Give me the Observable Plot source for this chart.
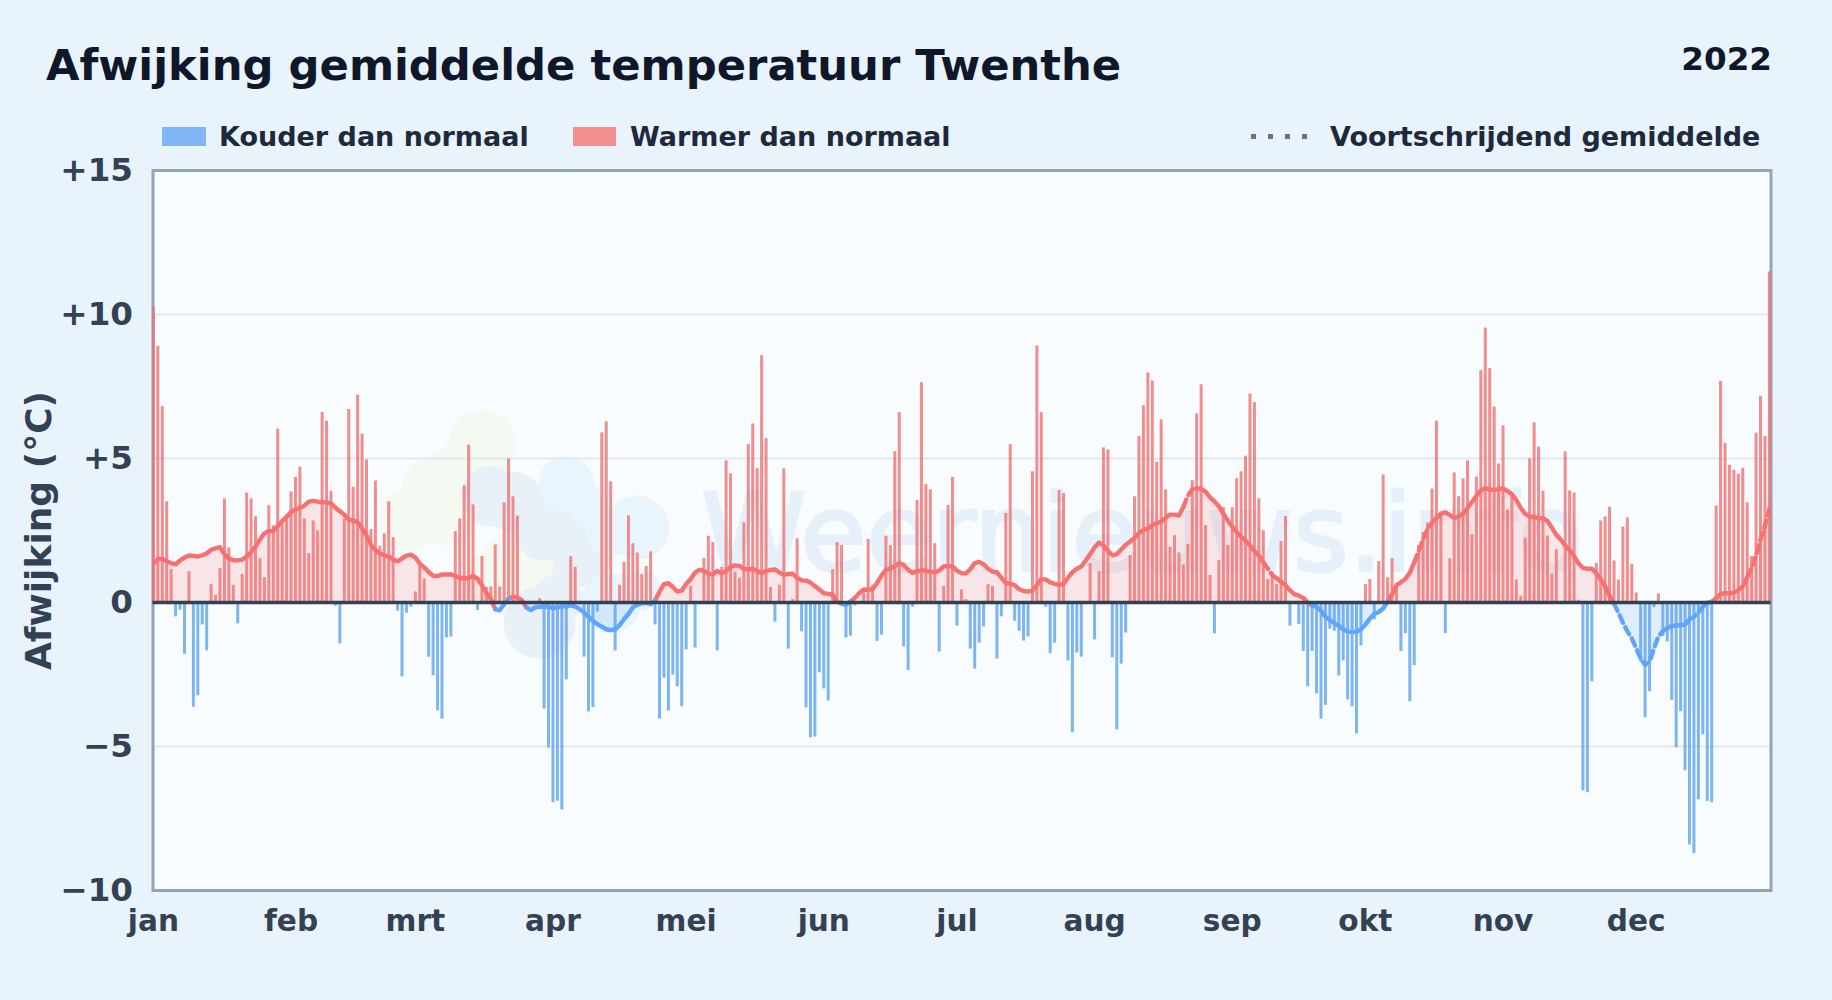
<!DOCTYPE html>
<html lang="nl">
<head>
<meta charset="utf-8">
<title>Afwijking gemiddelde temperatuur Twenthe</title>
<script src="https://cdn.jsdelivr.net/npm/d3@7"></script>
<script src="https://cdn.jsdelivr.net/npm/@observablehq/plot@0.6"></script>
<style>
html,body{margin:0;padding:0;width:1832px;height:1000px;overflow:hidden;background:#e8f3fc;font-family:"DejaVu Sans",sans-serif;}
.t{position:absolute;white-space:nowrap;font-weight:700;line-height:1;}
#title{left:46px;top:43.5px;font-size:43.3px;color:#0f172a;}
#year{right:60px;top:43px;font-size:32.6px;color:#0f172a;}
.leg{top:122.5px;font-size:27px;color:#1e293b;}
.sw{position:absolute;top:127px;height:19px;}
#chart{position:absolute;left:0;top:120px;}
</style>
</head>
<body>
<div id="title" class="t">Afwijking gemiddelde temperatuur Twenthe</div>
<div id="year" class="t">2022</div>
<div class="sw" style="left:162px;width:44px;background:#80b6f8"></div>
<div class="t leg" style="left:219px">Kouder dan normaal</div>
<div class="sw" style="left:573px;width:43px;background:#f68f91"></div>
<div class="t leg" style="left:630px">Warmer dan normaal</div>
<div class="sw" style="left:1251px;top:134px;width:56px;height:5px;background:repeating-linear-gradient(90deg,#64748b 0 5px,transparent 5px 17px)"></div>
<div class="t leg" style="left:1330px">Voortschrijdend gemiddelde</div>
<div id="chart"></div>
<script>
// Daily deviation from normal, °C, one per day of 2022
const deviation = [
10.25,8.9,6.8,3.5,1.15,-0.5,-0.27,-1.8,1.07,-3.64,
-3.24,-0.78,-1.68,0.62,0.24,1.18,3.6,1.9,0.6,-0.74,
0.97,3.8,3.6,2.98,1.52,0.86,3.36,2.66,6.02,2.7,
2.9,3.84,4.35,4.7,2.9,1.7,2.83,2.49,6.6,6.3,
3.86,-0.13,-1.44,2.9,6.7,4.0,7.2,5.85,4.95,2.53,
4.22,1.95,2.38,3.5,2.25,-0.3,-2.58,-0.37,-0.16,0.37,
1.32,0.82,-1.9,-2.55,-3.76,-4.05,-1.23,-1.2,2.46,2.9,
4.05,5.46,3.39,-0.28,1.6,0.52,0.54,2.0,0.54,3.46,
4.99,3.67,3.0,0,0,0,0,0.13,-3.7,-5.05,
-6.95,-6.9,-7.2,-2.69,1.59,1.22,0,-1.9,-3.8,-3.65,
-0.33,5.89,6.27,4.19,-1.68,0.6,1.39,3.01,2.04,1.72,
0.97,1.25,1.76,-0.78,-4.05,-2.63,-3.77,-2.52,-2.93,-3.62,
-1.64,0.56,-1.58,0,1.53,2.3,2.08,-1.68,1.22,4.92,
4.47,1.05,0.84,2.77,5.48,6.2,4.64,8.57,5.69,0.52,
-0.68,0.6,4.64,-1.62,0.1,2.21,-1.02,-3.66,-4.7,-4.67,
-2.44,-3.0,-3.42,1.14,2.08,1.98,-1.23,-1.17,-0.12,0,
0.33,2.19,0.6,-1.35,-1.13,2.3,1.98,5.24,6.59,-1.54,
-2.36,-0.16,3.54,7.63,4.09,3.91,2.04,-1.72,0.56,3.37,
4.34,-0.82,0.44,0.1,-1.62,-2.31,-1.41,-0.85,0.62,0.56,
-1.96,-0.5,3.09,5.48,-0.65,-1.0,-1.34,-1.19,4.54,8.91,
6.59,-0.16,-1.78,-1.41,3.89,3.78,-2.03,-4.52,-1.75,-1.9,
0,1.35,-1.3,1.07,5.37,5.3,-1.92,-4.42,-2.14,-1.06,
1.63,3.67,5.76,6.83,7.97,7.69,4.87,6.34,3.91,1.92,
2.32,1.72,1.3,2.02,4.23,6.55,7.56,2.67,0.94,-1.09,
1.46,3.3,1.98,3.29,4.3,4.54,5.08,7.24,6.94,3.6,
2.49,0.8,1.06,0.62,2.12,2.98,-0.82,0,-0.76,-1.7,
-2.93,-1.7,-3.17,-4.05,-3.57,-0.93,-1.0,-2.55,-2.03,-3.38,
-3.62,-4.56,-1.51,0.62,0.8,-0.6,1.42,4.43,0.86,1.53,
0.66,-1.7,-1.08,-3.44,-2.19,1.98,2.43,2.76,3.94,6.3,
3.15,-1.08,1.52,4.5,3.67,4.29,4.92,2.35,4.35,8.05,
9.53,8.12,6.79,4.81,6.13,3.21,3.7,0.78,0.22,2.24,
4.99,6.24,5.4,3.87,2.31,0.99,1.83,0,5.23,3.87,
3.8,0.08,-6.54,-6.6,-2.75,1.36,2.83,2.97,3.31,1.44,
0.78,2.62,2.94,1.33,0.33,-2.07,-4.0,-3.09,-0.18,0.3,
-1.18,-1.37,-3.4,-5.04,-3.79,-5.84,-8.42,-8.72,-6.85,-4.59,
-6.91,-6.95,3.35,7.68,5.52,4.77,4.59,4.45,4.66,3.46,
1.6,5.88,7.16,5.76,11.48];

// Moving average, °C, one per day
const movingAverage = [
1.35,1.5,1.52,1.43,1.37,1.33,1.46,1.56,1.63,1.62,
1.59,1.64,1.7,1.83,1.88,1.92,1.68,1.53,1.47,1.46,
1.49,1.59,1.75,1.94,2.19,2.4,2.48,2.48,2.65,2.82,
2.98,3.14,3.22,3.29,3.36,3.5,3.53,3.5,3.49,3.47,
3.44,3.29,3.17,3.05,2.88,2.84,2.79,2.57,2.32,1.99,
1.82,1.7,1.64,1.59,1.49,1.43,1.53,1.63,1.66,1.56,
1.35,1.22,1.06,0.93,0.92,0.97,0.97,0.98,0.92,0.85,
0.84,0.86,0.93,0.82,0.6,0.33,0.12,-0.23,-0.27,-0.06,
0.14,0.2,0.17,0.08,-0.17,-0.27,-0.17,-0.15,-0.14,-0.15,
-0.2,-0.17,-0.14,-0.13,-0.1,-0.14,-0.23,-0.35,-0.5,-0.64,
-0.75,-0.84,-0.93,-0.96,-0.93,-0.79,-0.58,-0.4,-0.17,-0.08,
-0.03,-0.01,-0.06,0.06,0.38,0.64,0.67,0.54,0.38,0.41,
0.64,0.81,1.04,1.13,1.1,1.01,0.97,1.1,1.01,1.1,
1.24,1.29,1.27,1.17,1.15,1.17,1.1,1.02,1.09,1.13,
1.15,1.04,0.96,0.99,1.0,0.85,0.77,0.76,0.69,0.57,
0.45,0.32,0.3,0.27,0.04,-0.05,-0.08,0.03,0.16,0.33,
0.45,0.44,0.46,0.68,0.93,1.13,1.19,1.26,1.37,1.3,
1.14,1.03,1.09,1.11,1.11,1.06,1.05,1.11,1.25,1.27,
1.26,1.1,1.02,1.01,1.15,1.37,1.41,1.33,1.17,1.07,
1.05,0.86,0.68,0.65,0.6,0.46,0.4,0.38,0.41,0.6,
0.81,0.8,0.7,0.65,0.61,0.64,0.86,1.05,1.17,1.25,
1.46,1.68,1.92,2.08,1.98,1.79,1.64,1.68,1.84,2.0,
2.12,2.24,2.41,2.52,2.57,2.68,2.76,2.81,2.94,3.05,
3.05,3.02,3.32,3.71,3.93,3.97,3.95,3.85,3.65,3.51,
3.34,3.08,2.85,2.63,2.45,2.28,2.15,1.98,1.79,1.62,
1.39,1.19,0.95,0.84,0.72,0.6,0.42,0.29,0.24,0.16,
0,-0.11,-0.15,-0.29,-0.49,-0.61,-0.72,-0.81,-0.93,-1.01,
-1.02,-1.02,-0.93,-0.77,-0.56,-0.4,-0.33,-0.21,0.03,0.29,
0.6,0.7,0.82,1.03,1.39,1.79,2.19,2.55,2.77,2.94,
3.08,3.13,3.04,2.94,2.98,3.08,3.28,3.49,3.7,3.89,
3.97,3.93,3.9,3.94,3.96,3.87,3.76,3.56,3.28,3.08,
2.99,2.97,2.93,2.93,2.83,2.6,2.35,2.18,1.98,1.81,
1.61,1.36,1.2,1.17,1.17,1.02,0.81,0.56,0.23,-0.04,
-0.36,-0.7,-1.0,-1.25,-1.59,-1.94,-2.17,-2.07,-1.59,-1.18,
-1.0,-0.88,-0.82,-0.8,-0.78,-0.77,-0.59,-0.49,-0.36,-0.15,
-0.01,0.03,0.15,0.29,0.32,0.32,0.34,0.43,0.56,0.88,
1.22,1.63,2.18,2.66,3.26];

// Day ranges where the moving-average line is drawn dashed
const dashedRanges = [[232,234],[250,252],[284,287],[328,340],[346,349],[359,364]];

const monthStarts = [0,31,59,90,120,151,181,212,243,273,304,334];
const monthLabels = ["jan","feb","mrt","apr","mei","jun","jul","aug","sep","okt","nov","dec"];
const yTicks = [-10,-5,0,5,10,15];
const yLabels = ["\u221210","\u22125","0","+5","+10","+15"];
const gridValues = [-5,5,10];

// Faint watermark logo: day, value, radius, colour
const logoDays   = [74,71,64,58,66, 82,76, 76,81,88,95,87,91, 93,98,109,103,103,110];
const logoValues = [5.5,4.8,3.9,2.9,3.2, 1.3,0.9, 3.7,3.5,2.5,1.9,-0.7,0.1, 4.1,3.4,2.6,2.5,-0.03,0.4];
const logoRadii  = [34,30,35,32,35, 36,25, 30,30,30,40,36,25, 28,20,32,25,30,20];
const logoTones  = ["#f4f9f2","#f4f9f2","#f4f9f2","#f4f9f2","#f4f9f2","#f4f9f2","#f4f9f2",
  "#e8f0f8","#e8f0f8","#e8f0f8","#e8f0f8","#e8f0f8","#e8f0f8",
  "#e9f5fd","#e9f5fd","#e9f5fd","#e9f5fd","#e9f5fd","#e9f5fd"];

const days = deviation.map((v,i)=>({day:i,value:v}));
const isDashed = d => dashedRanges.some(([a,b]) => d>=a && d<=b);
const maRows = movingAverage.map((v,i)=>({day:i,value:v,pos:Math.max(v,0),neg:Math.min(v,0)}));

// Split the line into runs of one colour and one dash style
const lineRows = [];
let run = 0;
movingAverage.forEach((v,i)=>{
  const key = (v>=0)+"|"+isDashed(i);
  const prevKey = i ? (movingAverage[i-1]>=0)+"|"+isDashed(i-1) : key;
  if (key!==prevKey) {
    lineRows.push({day:i,value:v,run,positive:movingAverage[i-1]>=0,dashed:isDashed(i-1)});
    run++;
  }
  lineRows.push({day:i,value:v,run,positive:v>=0,dashed:isDashed(i)});
});

const lineMark = (positive,dashed) => Plot.line(lineRows.filter(r=>r.positive===positive&&r.dashed===dashed),{
  x:"day",y:"value",z:"run",stroke:positive?"#f87171":"#60a5fa",strokeWidth:4.4,
  strokeDasharray:dashed?"8,5":null,strokeLinejoin:"round",curve:"linear",clip:true
});

const plot = Plot.plot({
  width:1832,height:880,
  marginLeft:152.5,marginRight:61.5,marginTop:50,marginBottom:110,
  style:{background:"transparent",fontFamily:"'DejaVu Sans',sans-serif",overflow:"visible"},
  x:{domain:[-0.09,364.36],axis:null},
  y:{domain:[-10,15],axis:null},
  r:{type:"identity"},
  marks:[
    Plot.frame({fill:"#f8fcff"}),
    Plot.dot(logoDays.map((d,i)=>({d,v:logoValues[i],r:logoRadii[i],c:logoTones[i]})),{x:"d",y:"v",r:"r",fill:"c",stroke:"none"}),
    Plot.text(["Weernieuws.info"],{frameAnchor:"top-left",dx:548,dy:324,text:d=>d,fontSize:107,fontWeight:400,fill:"#e6f0fa",stroke:"#e6f0fa",strokeWidth:3,textAnchor:"start",lineAnchor:"top"}),
    Plot.ruleY(gridValues,{stroke:"#e2e8f0",strokeWidth:2}),
    Plot.frame({stroke:"#94a3b8",strokeWidth:3}),
    Plot.areaY(maRows,{x:"day",y1:0,y2:"pos",fill:"#f87171",fillOpacity:0.16,curve:"linear",clip:true}),
    Plot.areaY(maRows,{x:"day",y1:0,y2:"neg",fill:"#60a5fa",fillOpacity:0.16,curve:"linear",clip:true}),
    Plot.ruleX(days.filter(d=>d.value>0),{x:"day",y1:0,y2:"value",stroke:"#ef7070",strokeOpacity:0.8,strokeWidth:3}),
    Plot.ruleX(days.filter(d=>d.value<0),{x:"day",y1:0,y2:"value",stroke:"#5ea2ec",strokeOpacity:0.8,strokeWidth:3}),
    lineMark(true,false),lineMark(true,true),lineMark(false,false),lineMark(false,true),
    Plot.ruleY([0],{stroke:"#334155",strokeWidth:3.6}),
    Plot.axisY({ticks:yTicks,tickFormat:v=>yLabels[yTicks.indexOf(v)],tickSize:0,tickPadding:20,fontSize:32.6,fontWeight:700,color:"#334155",fill:"#334155",
      label:null}),
    Plot.axisX({ticks:monthStarts,tickFormat:v=>monthLabels[monthStarts.indexOf(v)],tickSize:0,tickPadding:19,fontSize:29.6,fontWeight:700,fill:"#334155",label:null}),
    Plot.text(["Afwijking (\u00b0C)"],{frameAnchor:"left",dx:-114,text:d=>d,textAnchor:"middle",rotate:-90,fontSize:36,fontWeight:700,fill:"#334155"})
  ]
});
document.getElementById("chart").appendChild(plot);
</script>
</body>
</html>
